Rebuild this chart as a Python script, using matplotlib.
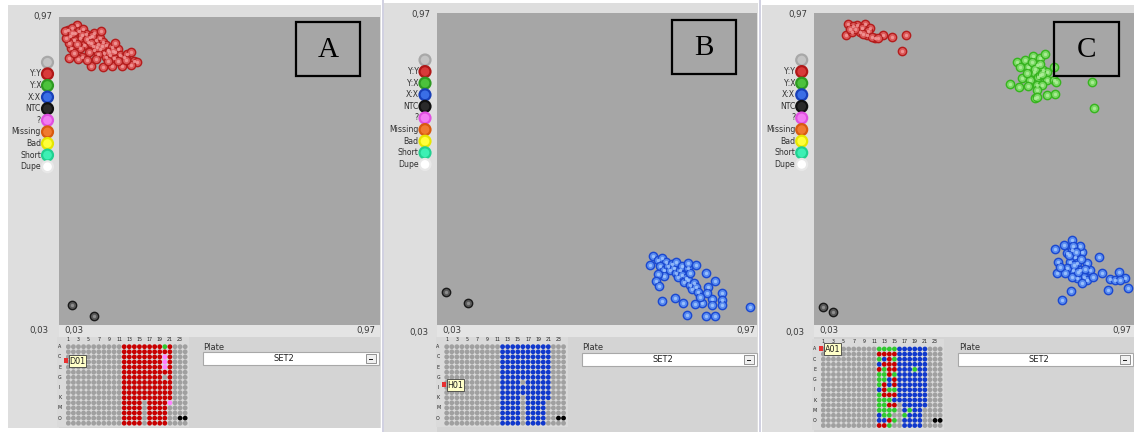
import numpy as np
import matplotlib
matplotlib.use("Agg")
from matplotlib import pyplot as plt
from matplotlib.patches import Rectangle

W, H = 1134, 432

# ---- scatter data (normalised intensities, 0.03 .. 0.97) ----
a_red = [(0.083, 0.946), (0.056, 0.930), (0.068, 0.936), (0.077, 0.921), (0.062, 0.912),
         (0.089, 0.927), (0.100, 0.933), (0.109, 0.918), (0.092, 0.906), (0.074, 0.900),
         (0.121, 0.909), (0.133, 0.921), (0.115, 0.894), (0.103, 0.885), (0.138, 0.900),
         (0.150, 0.906), (0.130, 0.882), (0.144, 0.888), (0.159, 0.894), (0.168, 0.885),
         (0.150, 0.872), (0.133, 0.869), (0.174, 0.869), (0.185, 0.879), (0.162, 0.860),
         (0.179, 0.854), (0.194, 0.863), (0.203, 0.872), (0.209, 0.854), (0.191, 0.845),
         (0.220, 0.848), (0.229, 0.857), (0.168, 0.848), (0.144, 0.857), (0.118, 0.863),
         (0.092, 0.875), (0.065, 0.875), (0.059, 0.891), (0.127, 0.912), (0.194, 0.891),
         (0.153, 0.927), (0.241, 0.863), (0.250, 0.836), (0.259, 0.833), (0.241, 0.824),
         (0.215, 0.821), (0.185, 0.821), (0.159, 0.818), (0.124, 0.821), (0.097, 0.848),
         (0.086, 0.842), (0.059, 0.845), (0.138, 0.842), (0.203, 0.836), (0.226, 0.839),
         (0.174, 0.836), (0.112, 0.839), (0.074, 0.860), (0.051, 0.906), (0.048, 0.927),
         (0.097, 0.915), (0.112, 0.903), (0.124, 0.891), (0.141, 0.879), (0.156, 0.882),
         (0.177, 0.863), (0.188, 0.866), (0.083, 0.888), (0.068, 0.921)]
a_ntc = [(0.068, 0.091), (0.133, 0.058)]

b_blue = [(0.665, 0.239), (0.656, 0.211), (0.680, 0.227), (0.692, 0.233), (0.703, 0.220),
          (0.686, 0.208), (0.697, 0.196), (0.709, 0.208), (0.721, 0.214), (0.715, 0.196),
          (0.727, 0.202), (0.733, 0.187), (0.744, 0.196), (0.739, 0.175), (0.750, 0.181),
          (0.762, 0.172), (0.756, 0.160), (0.768, 0.166), (0.774, 0.151), (0.786, 0.157),
          (0.780, 0.139), (0.791, 0.145), (0.797, 0.130), (0.697, 0.178), (0.680, 0.184),
          (0.674, 0.163), (0.683, 0.148), (0.733, 0.220), (0.750, 0.208), (0.768, 0.202),
          (0.768, 0.217), (0.791, 0.211), (0.774, 0.187), (0.821, 0.187), (0.847, 0.163),
          (0.868, 0.127), (0.868, 0.106), (0.868, 0.091), (0.839, 0.109), (0.839, 0.091),
          (0.809, 0.097), (0.789, 0.094), (0.753, 0.097), (0.730, 0.112), (0.692, 0.103),
          (0.765, 0.061), (0.821, 0.058), (0.847, 0.058), (0.950, 0.085), (0.827, 0.145),
          (0.824, 0.127), (0.803, 0.115)]
b_ntc = [(0.056, 0.130), (0.121, 0.097)]

c_red = [(0.130, 0.937), (0.156, 0.934), (0.180, 0.937), (0.195, 0.925), (0.124, 0.904),
         (0.142, 0.913), (0.165, 0.913), (0.186, 0.904), (0.209, 0.895), (0.233, 0.904),
         (0.259, 0.898), (0.300, 0.904), (0.289, 0.856), (0.145, 0.931), (0.171, 0.925),
         (0.151, 0.922), (0.189, 0.916), (0.201, 0.898), (0.218, 0.895), (0.174, 0.907),
         (0.136, 0.922)]
c_green = [(0.626, 0.823), (0.650, 0.829), (0.672, 0.841), (0.694, 0.834), (0.709, 0.846),
           (0.660, 0.808), (0.685, 0.813), (0.675, 0.793), (0.704, 0.798), (0.714, 0.793),
           (0.736, 0.808), (0.641, 0.773), (0.665, 0.768), (0.689, 0.778), (0.714, 0.768),
           (0.734, 0.768), (0.741, 0.763), (0.606, 0.755), (0.631, 0.748), (0.660, 0.750),
           (0.685, 0.753), (0.699, 0.753), (0.685, 0.738), (0.680, 0.715), (0.714, 0.723),
           (0.739, 0.725), (0.848, 0.761), (0.852, 0.685), (0.636, 0.808), (0.694, 0.783),
           (0.670, 0.823), (0.685, 0.718), (0.680, 0.800), (0.695, 0.815), (0.700, 0.785),
           (0.655, 0.790)]
c_blue = [(0.739, 0.259), (0.763, 0.272), (0.789, 0.287), (0.817, 0.251), (0.866, 0.236),
          (0.748, 0.221), (0.744, 0.188), (0.758, 0.106), (0.786, 0.131), (0.895, 0.136),
          (0.951, 0.141), (0.925, 0.191), (0.944, 0.171), (0.900, 0.168), (0.876, 0.186),
          (0.841, 0.196), (0.773, 0.247), (0.788, 0.257), (0.797, 0.236), (0.783, 0.221),
          (0.802, 0.217), (0.812, 0.196), (0.792, 0.196), (0.773, 0.202), (0.822, 0.176),
          (0.802, 0.171), (0.832, 0.166), (0.817, 0.156), (0.788, 0.176), (0.851, 0.176),
          (0.832, 0.217), (0.768, 0.186), (0.753, 0.206), (0.812, 0.267), (0.792, 0.267),
          (0.915, 0.166), (0.930, 0.166), (0.795, 0.210), (0.805, 0.190), (0.780, 0.240),
          (0.815, 0.230), (0.825, 0.200), (0.800, 0.250)]
c_ntc = [(0.056, 0.085), (0.086, 0.070)]

# ---- legend ----
legend_labels = ["", "Y:Y", "Y:X", "X:X", "NTC", "?", "Missing", "Bad", "Short", "Dupe"]
legend_face = ["#c4c4c4", "#d83a3a", "#4cc23c", "#3a6ee6", "#2a2a2a", "#f27cf2", "#f07a30",
               "#ffff3a", "#3cf0b4", "#ffffff"]
legend_edge = ["#a8a8a8", "#b01818", "#2e9a22", "#1840b8", "#101010", "#e050e0", "#d85a10",
               "#e6e600", "#20d090", "#e8e8e8"]

# ---- plate layouts (rows A..P, columns 1..24) ----
plate_a = ["...........RRRRRRRRGR...",
           "...........RRRRRRRRRR...",
           "...........RRRRRRRRPR...",
           "...........RRRRRRRRPR...",
           "...........RRRRRRRRPR...",
           "...........RRRRRRRRRR...",
           "...........RRRRRRRR.R...",
           "...........RRRRRRRRRR...",
           "...........RRRRRRRRRR...",
           "...........RRRRRRRRRR...",
           "...........RRRRRRRRRR...",
           "...........RRRR.RRRRP...",
           "...........RRRR.RRRR....",
           "...........RRRR.RRRR....",
           "...........RRRR.RRRR..KK",
           "...........RRRR.RRRR...."]
plate_b = ["...........BBBBBBBBBB...",
           "...........BBBBBBBBBB...",
           "...........BBBBBBBBBB...",
           "...........BBBBBBBBBB...",
           "...........BBBBBBBBBB...",
           "...........BBBBBBBBBB...",
           "...........BBBBBBBBBB...",
           "...........BBBB.BBBBB...",
           "...........BBBBBBBBBB...",
           "...........BBBBBBBBBB...",
           "...........BBBB.BBBBB...",
           "...........BBBB.BBBB....",
           "...........BBBB.BBBB....",
           "...........BBBB.BBBB....",
           "...........BBBB.BBBB..KK",
           "...........BBBB.BBBB...."]
plate_c = ["...........GGGGBBBBBB...",
           "...........RRRRBBBBBB...",
           "...........GBRGBBBBBB...",
           "...........BRRRBBBBBB...",
           "...........RGRRBBBGBB...",
           "...........GGRGBBBBBB...",
           "...........GGBRBBBBBB...",
           "...........GRBRBBBBBB...",
           "...........BRGGBBBBBB...",
           "...........GRRRBBBBBB...",
           "...........GGGBBBBBBB...",
           "...........GGRR.BBBBB...",
           "...........GGGG.BGBB....",
           "...........BGG..GBBB....",
           "...........BBRG.BBBB..KK",
           "...........RRG..BBBB...."]
well_colors = {".": "#a0a0a0", "R": "#c80000", "G": "#30c830", "B": "#1038cc",
               "K": "#000000", "P": "#ff80ff"}
row_letters = ["A", "C", "E", "G", "I", "K", "M", "O"]
col_numbers = [1, 3, 5, 7, 9, 11, 13, 15, 17, 19, 21, 23]

# ---- screen layout in pixels ----
panels = [
    dict(name="A", bg=(8, 5, 381, 428), plot=(59, 17, 380, 325), lt=(52, 17), lb=(49, 330),
         xl=(64, 330), xr=(375, 330), leg=(47.5, 62.3), box=(296, 22, 360, 76),
         grid=(68.3, 346.7), plate_lbl=(203, 347), drop=(203, 352, 379, 365),
         tip=(69, 355, "D01"), data=[(a_red, "r"), (a_ntc, "k")], plate=plate_a),
    dict(name="B", bg=(384, 3, 758, 432), plot=(437, 13, 757, 325), lt=(430, 15), lb=(428, 332),
         xl=(442, 330), xr=(755, 330), leg=(425, 60), box=(672, 20, 736, 74),
         grid=(446.7, 346.7), plate_lbl=(582, 347), drop=(582, 353, 757, 366),
         tip=(447, 379, "H01"), data=[(b_blue, "b"), (b_ntc, "k")], plate=plate_b),
    dict(name="C", bg=(762, 5, 1134, 432), plot=(814, 13, 1134, 325), lt=(807, 15), lb=(805, 333),
         xl=(819, 330), xr=(1131, 330), leg=(801.7, 60), box=(1054, 22, 1119, 76),
         grid=(823.3, 349), plate_lbl=(959, 347), drop=(958, 353, 1133, 366),
         tip=(824, 343, "A01"), data=[(c_red, "r"), (c_green, "g"), (c_blue, "b"), (c_ntc, "k")],
         plate=plate_c),
]
styles = {"r": ("#dc5a5a", "#b41c1c", "#f4a0a0"),
          "g": ("#7ad864", "#36b41e", "#b4f0a0"),
          "b": ("#5a8cf0", "#1a48d0", "#a8ccff"),
          "k": ("#5a5a5a", "#1a1a1a", "#9a9a9a")}
SP = 5.08
UI = "DejaVu Sans"


def px_rect(x0, y0, x1, y1):
    return [x0 / W, 1 - y1 / H, (x1 - x0) / W, (y1 - y0) / H]


fig = plt.figure(figsize=(W / 100, H / 100), dpi=100)
fig.patch.set_facecolor("white")
bg = fig.add_axes([0, 0, 1, 1])
bg.set_xlim(0, W)
bg.set_ylim(H, 0)
bg.axis("off")

for p in panels:
    x0, y0, x1, y1 = p["bg"]
    bg.add_patch(Rectangle((x0, y0), x1 - x0, y1 - y0, fc="#dedede", ec="none"))
    px0, py0, px1, py1 = p["plot"]
    bg.add_patch(Rectangle((px0, py1), px1 - px0, 12, fc="#e4e4e4", ec="none"))
    bg.add_patch(Rectangle((px0, py1 + 12), px1 - px0, y1 - py1 - 12, fc="#d4d4d4", ec="none"))
    gx, gy = p["grid"]
    bg.add_patch(Rectangle((gx - 11, gy - 10), 23 * SP + 15, 15 * 5.1 + 14,
                           fc="#dadada", ec="none"))

    # axis value labels
    bg.text(p["lt"][0], p["lt"][1], "0,97", fontsize=6.2, ha="right", va="center",
            color="#3a3a3a", family=UI)
    bg.text(p["lb"][0], p["lb"][1], "0,03", fontsize=6.2, ha="right", va="center",
            color="#3a3a3a", family=UI)
    bg.text(p["xl"][0], p["xl"][1], "0,03", fontsize=6.2, ha="left", va="center",
            color="#3a3a3a", family=UI)
    bg.text(p["xr"][0], p["xr"][1], "0,97", fontsize=6.2, ha="right", va="center",
            color="#3a3a3a", family=UI)

    # call legend
    lx, ly = p["leg"]
    ys = [ly + i * 11.6 for i in range(len(legend_labels))]
    bg.scatter([lx] * len(ys), ys, s=62, c=legend_face, edgecolors=legend_edge,
               linewidths=1.6, zorder=3)
    for y, lab in zip(ys, legend_labels):
        bg.text(lx - 6.5, y, lab, fontsize=5.6, ha="right", va="center",
                color="#303030", family=UI)

    # plate selector
    bg.text(p["plate_lbl"][0], p["plate_lbl"][1], "Plate", fontsize=6, ha="left",
            va="center", color="#303030", family=UI)
    dx0, dy0, dx1, dy1 = p["drop"]
    bg.add_patch(Rectangle((dx0, dy0), dx1 - dx0, dy1 - dy0, fc="white", ec="#a8a8a8", lw=0.8))
    bg.text((dx0 + dx1 - 14) / 2, (dy0 + dy1) / 2, "SET2", fontsize=6, ha="center",
            va="center", color="#202020", family=UI)
    bg.add_patch(Rectangle((dx1 - 13, dy0 + 2), 10, dy1 - dy0 - 4, fc="#f0f0f0",
                           ec="#808080", lw=0.6))
    bg.add_patch(Rectangle((dx1 - 10, (dy0 + dy1) / 2), 4, 1.6, fc="#202020", ec="none"))

    # main scatter
    ax = fig.add_axes(px_rect(*p["plot"]))
    ax.set_facecolor("#a6a6a6")
    ax.set_xlim(0.03, 0.97)
    ax.set_ylim(0.03, 0.97)
    ax.set_xticks([])
    ax.set_yticks([])
    for s in ax.spines.values():
        s.set_visible(False)
    for pts, key in p["data"]:
        face, edge, hi = styles[key]
        arr = np.array(pts)
        ax.scatter(arr[:, 0], arr[:, 1], s=36, c=face, edgecolors=edge, linewidths=1.0, zorder=3)
    for pts, key in p["data"]:
        face, edge, hi = styles[key]
        arr = np.array(pts)
        ax.scatter(arr[:, 0], arr[:, 1], s=6, c=hi, linewidths=0, zorder=4, alpha=0.8)

    # plate wells
    pax = fig.add_axes(px_rect(gx - SP / 2, gy - 2.55, gx + 23 * SP + SP / 2, gy + 15 * 5.1 + 2.55))
    pax.set_xlim(-0.5, 23.5)
    pax.set_ylim(15.5, -0.5)
    pax.axis("off")
    rows, cols, cs = [], [], []
    for r, line in enumerate(p["plate"]):
        for c, ch in enumerate(line):
            rows.append(r)
            cols.append(c)
            cs.append(well_colors[ch])
    pax.scatter(cols, rows, s=12, c=cs, linewidths=0)
    for n in col_numbers:
        pax.text(n - 1, -1.5, str(n), fontsize=3.4, ha="center", va="center",
                 color="#202020", clip_on=False)
    for i, l in enumerate(row_letters):
        pax.text(-1.7, i * 2, l, fontsize=3.4, ha="center", va="center",
                 color="#202020", clip_on=False)

# overlay for the panel tags and tooltips
fg = fig.add_axes([0, 0, 1, 1])
fg.set_xlim(0, W)
fg.set_ylim(H, 0)
fg.axis("off")
fg.patch.set_alpha(0)
for p in panels:
    bx0, by0, bx1, by1 = p["box"]
    fg.add_patch(Rectangle((bx0, by0), bx1 - bx0, by1 - by0, fc="none", ec="black", lw=1.6))
    fg.text((bx0 + bx1) / 2, (by0 + by1) / 2 + 1, p["name"], fontsize=21, ha="center",
            va="center", family="Liberation Serif")
    tx, ty, tlab = p["tip"]
    fg.add_patch(Rectangle((tx - 5, ty + 3), 4, 5, fc="#e83030", ec="none"))
    fg.add_patch(Rectangle((tx, ty), 17, 12, fc="#ffffc8", ec="#404040", lw=0.6))
    fg.text(tx + 8.5, ty + 6.5, tlab, fontsize=5.8, ha="center", va="center",
            color="#202020", family=UI)

# separators between windows
for x in (382.5, 759.5):
    fg.plot([x, x], [0, H], color="#c8c8dc", lw=1.2)

fig.savefig("out.png", dpi=100)
